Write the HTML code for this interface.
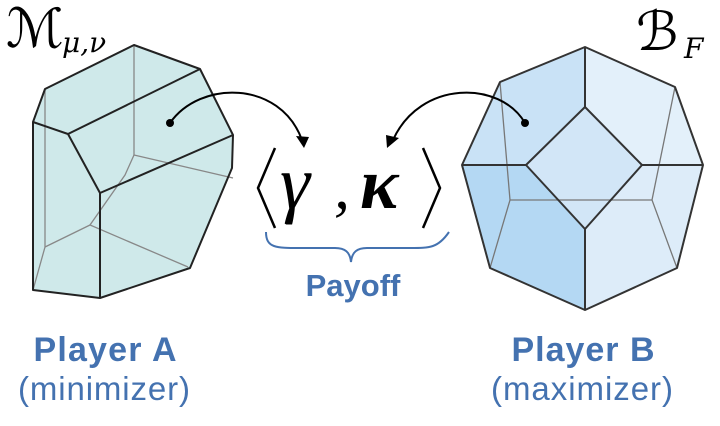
<!DOCTYPE html>
<html><head><meta charset="utf-8"><style>
html,body{margin:0;padding:0;background:#fff;}
body{width:720px;height:426px;overflow:hidden;}
svg{display:block}
.s{font-family:"Liberation Sans",Arial,sans-serif;fill:#4472b0;}
.m{font-family:"DejaVu Serif","Liberation Serif",serif;font-style:italic;fill:#000;}
.l{font-family:"Liberation Serif",serif;font-style:italic;fill:#000;}
</style></head><body>
<svg width="720" height="426" viewBox="0 0 720 426" xmlns="http://www.w3.org/2000/svg">
<!-- left polytope -->
<polygon points="45,89 134,45 200,69 233,135 232,168 190,268 100,298 33,290 33,122" fill="#cfe9ea"/>
<g stroke="#888" stroke-width="1.3" fill="none">
<polyline points="134,45 134,155 233,178"/>
<polyline points="134,155 125,175 90,225 188,267"/>
<polyline points="45,89 45,247 33,290"/>
<line x1="45" y1="247" x2="90" y2="225"/>
</g>
<g stroke="#222" stroke-width="2" fill="none" stroke-linejoin="round">
<polygon points="45,89 134,45 200,69 233,135 232,168 190,268 100,298 33,290 33,122"/>
<polyline points="33,122 68,134 100,193 233,135"/>
<line x1="68" y1="134" x2="200" y2="69"/>
<line x1="100" y1="193" x2="100" y2="298"/>
</g>
<!-- right polytope -->
<polygon points="585,47 500,82 462,165 526,165 585,107" fill="#c9e2f6"/>
<polygon points="585,47 675,87 703,165 642,165 585,107" fill="#e3f0fa"/>
<polygon points="462,165 526,165 585,229 585,310 490,268" fill="#b4d8f3"/>
<polygon points="703,165 677,268 585,310 585,229 642,165" fill="#ddecf9"/>
<polygon points="585,107 642,165 585,229 526,165" fill="#d2e6f7"/>
<g stroke="#777" stroke-width="1.3" fill="none">
<polyline points="500,82 510,200 490,268"/>
<line x1="510" y1="200" x2="652" y2="200"/>
<polyline points="675,87 652,200 677,268"/>
</g>
<g stroke="#333" stroke-width="2" fill="none" stroke-linejoin="round">
<polygon points="585,47 675,87 703,165 677,268 585,310 490,268 462,165 500,82"/>
<polygon points="585,107 642,165 585,229 526,165"/>
<line x1="585" y1="47" x2="585" y2="107"/>
<line x1="462" y1="165" x2="526" y2="165"/>
<line x1="642" y1="165" x2="703" y2="165"/>
<line x1="585" y1="229" x2="585" y2="310"/>
</g>
<!-- arrows -->
<circle cx="170" cy="123" r="4" fill="#000"/>
<circle cx="525" cy="123" r="4" fill="#000"/>
<path d="M170,123 C200,80 280,80 302,140" stroke="#000" stroke-width="2" fill="none"/>
<polygon points="304,148 296,136 309,137" fill="#000"/>
<path d="M525,123 C500,80 420,80 393,140" stroke="#000" stroke-width="2" fill="none"/>
<polygon points="387,148 386,135 399,138" fill="#000"/>
<!-- brackets -->
<polyline points="275,148 258,188 275,228" stroke="#000" stroke-width="2.5" fill="none"/>
<polyline points="423,148 440,188 423,228" stroke="#000" stroke-width="2.5" fill="none"/>
<text x="280" y="208" class="l" font-size="76">γ</text>
<text x="334" y="208" class="l" font-size="64">,</text>
<text x="360" y="208" class="l" font-size="72" font-weight="bold">κ</text>
<!-- brace -->
<path d="M266,232 C266,248 276,248 300,248 L335,248 C345,248 350,252 351,262 C352,252 357,248 367,248 L410,248 C430,248 438,248 449,232" stroke="#4472b0" stroke-width="2" fill="none"/>
<text x="353" y="296" class="s" font-size="31" font-weight="bold" text-anchor="middle">Payoff</text>
<text x="105" y="361" class="s" font-size="34" font-weight="bold" text-anchor="middle" textLength="143">Player A</text>
<text x="104" y="400" class="s" font-size="33" text-anchor="middle" textLength="172">(minimizer)</text>
<text x="583" y="361" class="s" font-size="34" font-weight="bold" text-anchor="middle" textLength="143">Player B</text>
<text x="582" y="400" class="s" font-size="33" text-anchor="middle" textLength="182">(maximizer)</text>
<!-- math labels -->
<text x="6" y="47" class="m" font-size="54" style="font-style:normal">ℳ</text>
<text x="62" y="52" class="m" font-size="28">μ,ν</text>
<text x="636" y="50" class="m" font-size="54" style="font-style:normal">ℬ</text>
<text x="684" y="58" class="m" font-size="28">F</text>
</svg>
</body></html>
